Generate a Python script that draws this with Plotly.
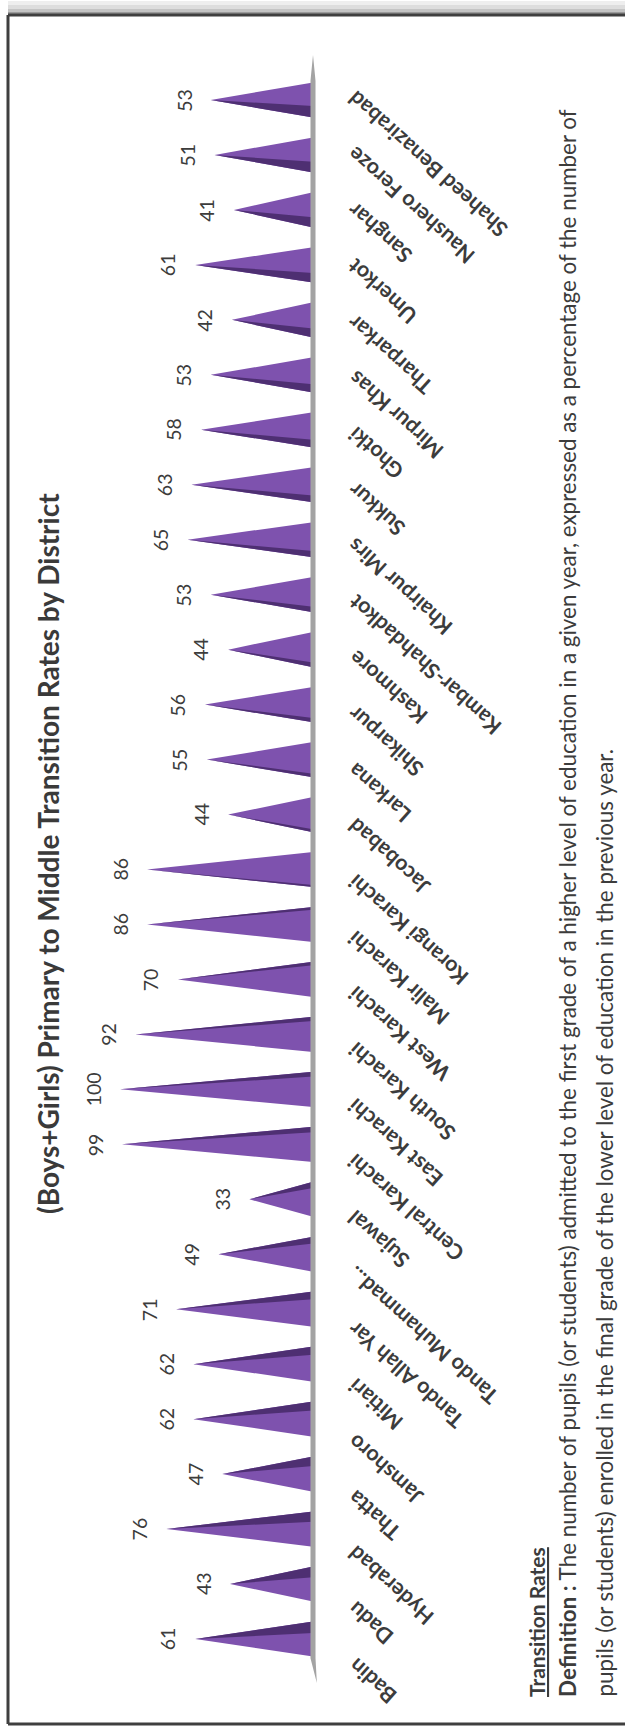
import plotly.graph_objects as go

# ---------------- data ----------------
districts = ["Badin", "Dadu", "Hyderabad", "Thatta", "Jamshoro", "Mitiari",
             "Tando Allah Yar", "Tando Muhammad...", "Sujawal", "Central Karachi",
             "East Karachi", "South Karachi", "West Karachi", "Malir Karachi",
             "Korangi Karachi", "Jacobabad", "Larkana", "Shikarpur", "Kashmore",
             "Kambar-Shahdadkot", "Khairpur Mirs", "Sukkur", "Ghotki", "Mirpur Khas",
             "Tharparkar", "Umerkot", "Sanghar", "Naushero Feroze", "Shaheed Benazirabad"]
rates = [61, 43, 76, 47, 62, 62, 71, 49, 33, 99, 100, 92, 70, 86, 86, 44, 55, 56,
         44, 53, 65, 63, 58, 53, 42, 61, 41, 51, 53]

title = "(Boys+Girls) Primary to Middle Transition Rates by District"
note_head = "Transition Rates"
note_line1 = ("<b>Definition :</b> The number of pupils (or students) admitted to the first grade "
              "of a higher level of education in a given year, expressed as a percentage of the number of")
note_line2 = ("pupils (or students) enrolled in the final grade of the lower level of education "
              "in the previous year.")

# ---------------- styling ----------------
W, H = 625, 1726
LIGHT = "#7E52AE"
DARK = "#4E2F72"
TXT = "#3C3C3C"
FONT = "Lato"
HALF = 0.32          # half width of a cone base (category units)
n = len(districts)
mid = (n - 1) / 2

def px(xp):
    return xp / W

def py(yp):
    return 1 - yp / H

fig = go.Figure()

for i, (name, v) in enumerate(zip(districts, rates)):
    lo, hi = i - HALF, i + HALF
    fig.add_trace(go.Scatter(
        x=[0, v, 0, 0], y=[lo, i, hi, lo], mode="lines", fill="toself",
        fillcolor=LIGHT, line=dict(width=0, color=LIGHT), hoverinfo="skip",
        showlegend=False))
    t = (i - mid) / mid
    f = 0.06 + 0.27 * abs(t)
    if t >= 0:
        ys = [lo, i, lo + f * 2 * HALF, lo]
    else:
        ys = [hi, i, hi - f * 2 * HALF, hi]
    fig.add_trace(go.Scatter(
        x=[0, v, 0, 0], y=ys, mode="lines", fill="toself",
        fillcolor=DARK, line=dict(width=0, color=DARK), hoverinfo="skip",
        showlegend=False))

# axis line (floor edge), tapered at both ends
ax_x = [1.3, 1.3, 0.0, -1.3, -1.3, -2.0, 1.3]
ax_y = [-0.35, 28.35, 28.82, 28.35, -0.35, -0.80, -0.35]
fig.add_trace(go.Scatter(x=ax_x, y=ax_y, mode="lines", fill="toself",
                         fillcolor="#A3A3A3", line=dict(width=0, color="#A3A3A3"),
                         hoverinfo="skip", showlegend=False))

ann = []
for i, (name, v) in enumerate(zip(districts, rates)):
    ann.append(dict(x=v, y=i, xref="x", yref="y", text=str(v), showarrow=False,
                    textangle=-90, xanchor="center", yanchor="middle", xshift=-27,
                    font=dict(family=FONT, size=19.5, color=TXT)))
    ann.append(dict(x=0, y=i, xref="x", yref="y", text=name, showarrow=False,
                    textangle=-138, xanchor="left", yanchor="top",
                    xshift=27, yshift=-11 + i * 1.0,
                    font=dict(family=FONT, size=21.5, color=TXT, weight="bold")))

ann.append(dict(x=px(48), y=py(854), xref="paper", yref="paper", text="<b>" + title + "</b>",
                showarrow=False, textangle=-90, xanchor="center", yanchor="middle",
                font=dict(family=FONT, size=28, color="#3A3A3A")))
BOTTOM = 1699
ann.append(dict(x=px(536), y=py(BOTTOM), xref="paper", yref="paper", text="<b>" + note_head + "</b>",
                showarrow=False, textangle=-90, xanchor="center", yanchor="bottom",
                font=dict(family=FONT, size=21, color=TXT, lineposition="under")))
ann.append(dict(x=px(567), y=py(BOTTOM), xref="paper", yref="paper", text=note_line1,
                showarrow=False, textangle=-90, xanchor="center", yanchor="bottom",
                font=dict(family=FONT, size=22.4, color=TXT)))
ann.append(dict(x=px(604), y=py(BOTTOM), xref="paper", yref="paper", text=note_line2,
                showarrow=False, textangle=-90, xanchor="center", yanchor="bottom",
                font=dict(family=FONT, size=22.4, color=TXT)))

shapes = []
for y0, y1, c in [(1, 5, "#EEEEEE"), (5, 9, "#DDDDDD"), (9, 12, "#C4C4C4"), (12, 14, "#9A9A9A")]:
    shapes.append(dict(type="rect", xref="paper", yref="paper", x0=px(8), x1=1,
                       y0=py(y1), y1=py(y0), fillcolor=c, line=dict(width=0), layer="below"))
shapes.append(dict(type="line", xref="paper", yref="paper", x0=px(8), x1=1, y0=py(15), y1=py(15),
                   line=dict(color="#3F3F3F", width=3)))
shapes.append(dict(type="line", xref="paper", yref="paper", x0=px(8), x1=px(8), y0=py(15), y1=py(1724),
                   line=dict(color="#3F3F3F", width=3)))
shapes.append(dict(type="line", xref="paper", yref="paper", x0=px(8), x1=1, y0=py(1724), y1=py(1724),
                   line=dict(color="#3F3F3F", width=3)))

zero_px = 313
ppu = 1.93
x_left = zero_px / ppu
x_right = x_left - W / ppu
y_bottom = 0 - (H - 1639) / 54.96
y_top = (n - 1) + 100 / 54.96

fig.update_layout(
    width=W, height=H, margin=dict(l=0, r=0, t=0, b=0),
    paper_bgcolor="white", plot_bgcolor="white",
    xaxis=dict(range=[x_left, x_right], visible=False, fixedrange=True),
    yaxis=dict(range=[y_bottom, y_top], visible=False, fixedrange=True),
    annotations=ann, shapes=shapes, showlegend=False,
)

fig.write_html("out.html", config={"displayModeBar": False},
               post_script="document.body.style.margin='0';document.body.style.overflow='hidden';")
